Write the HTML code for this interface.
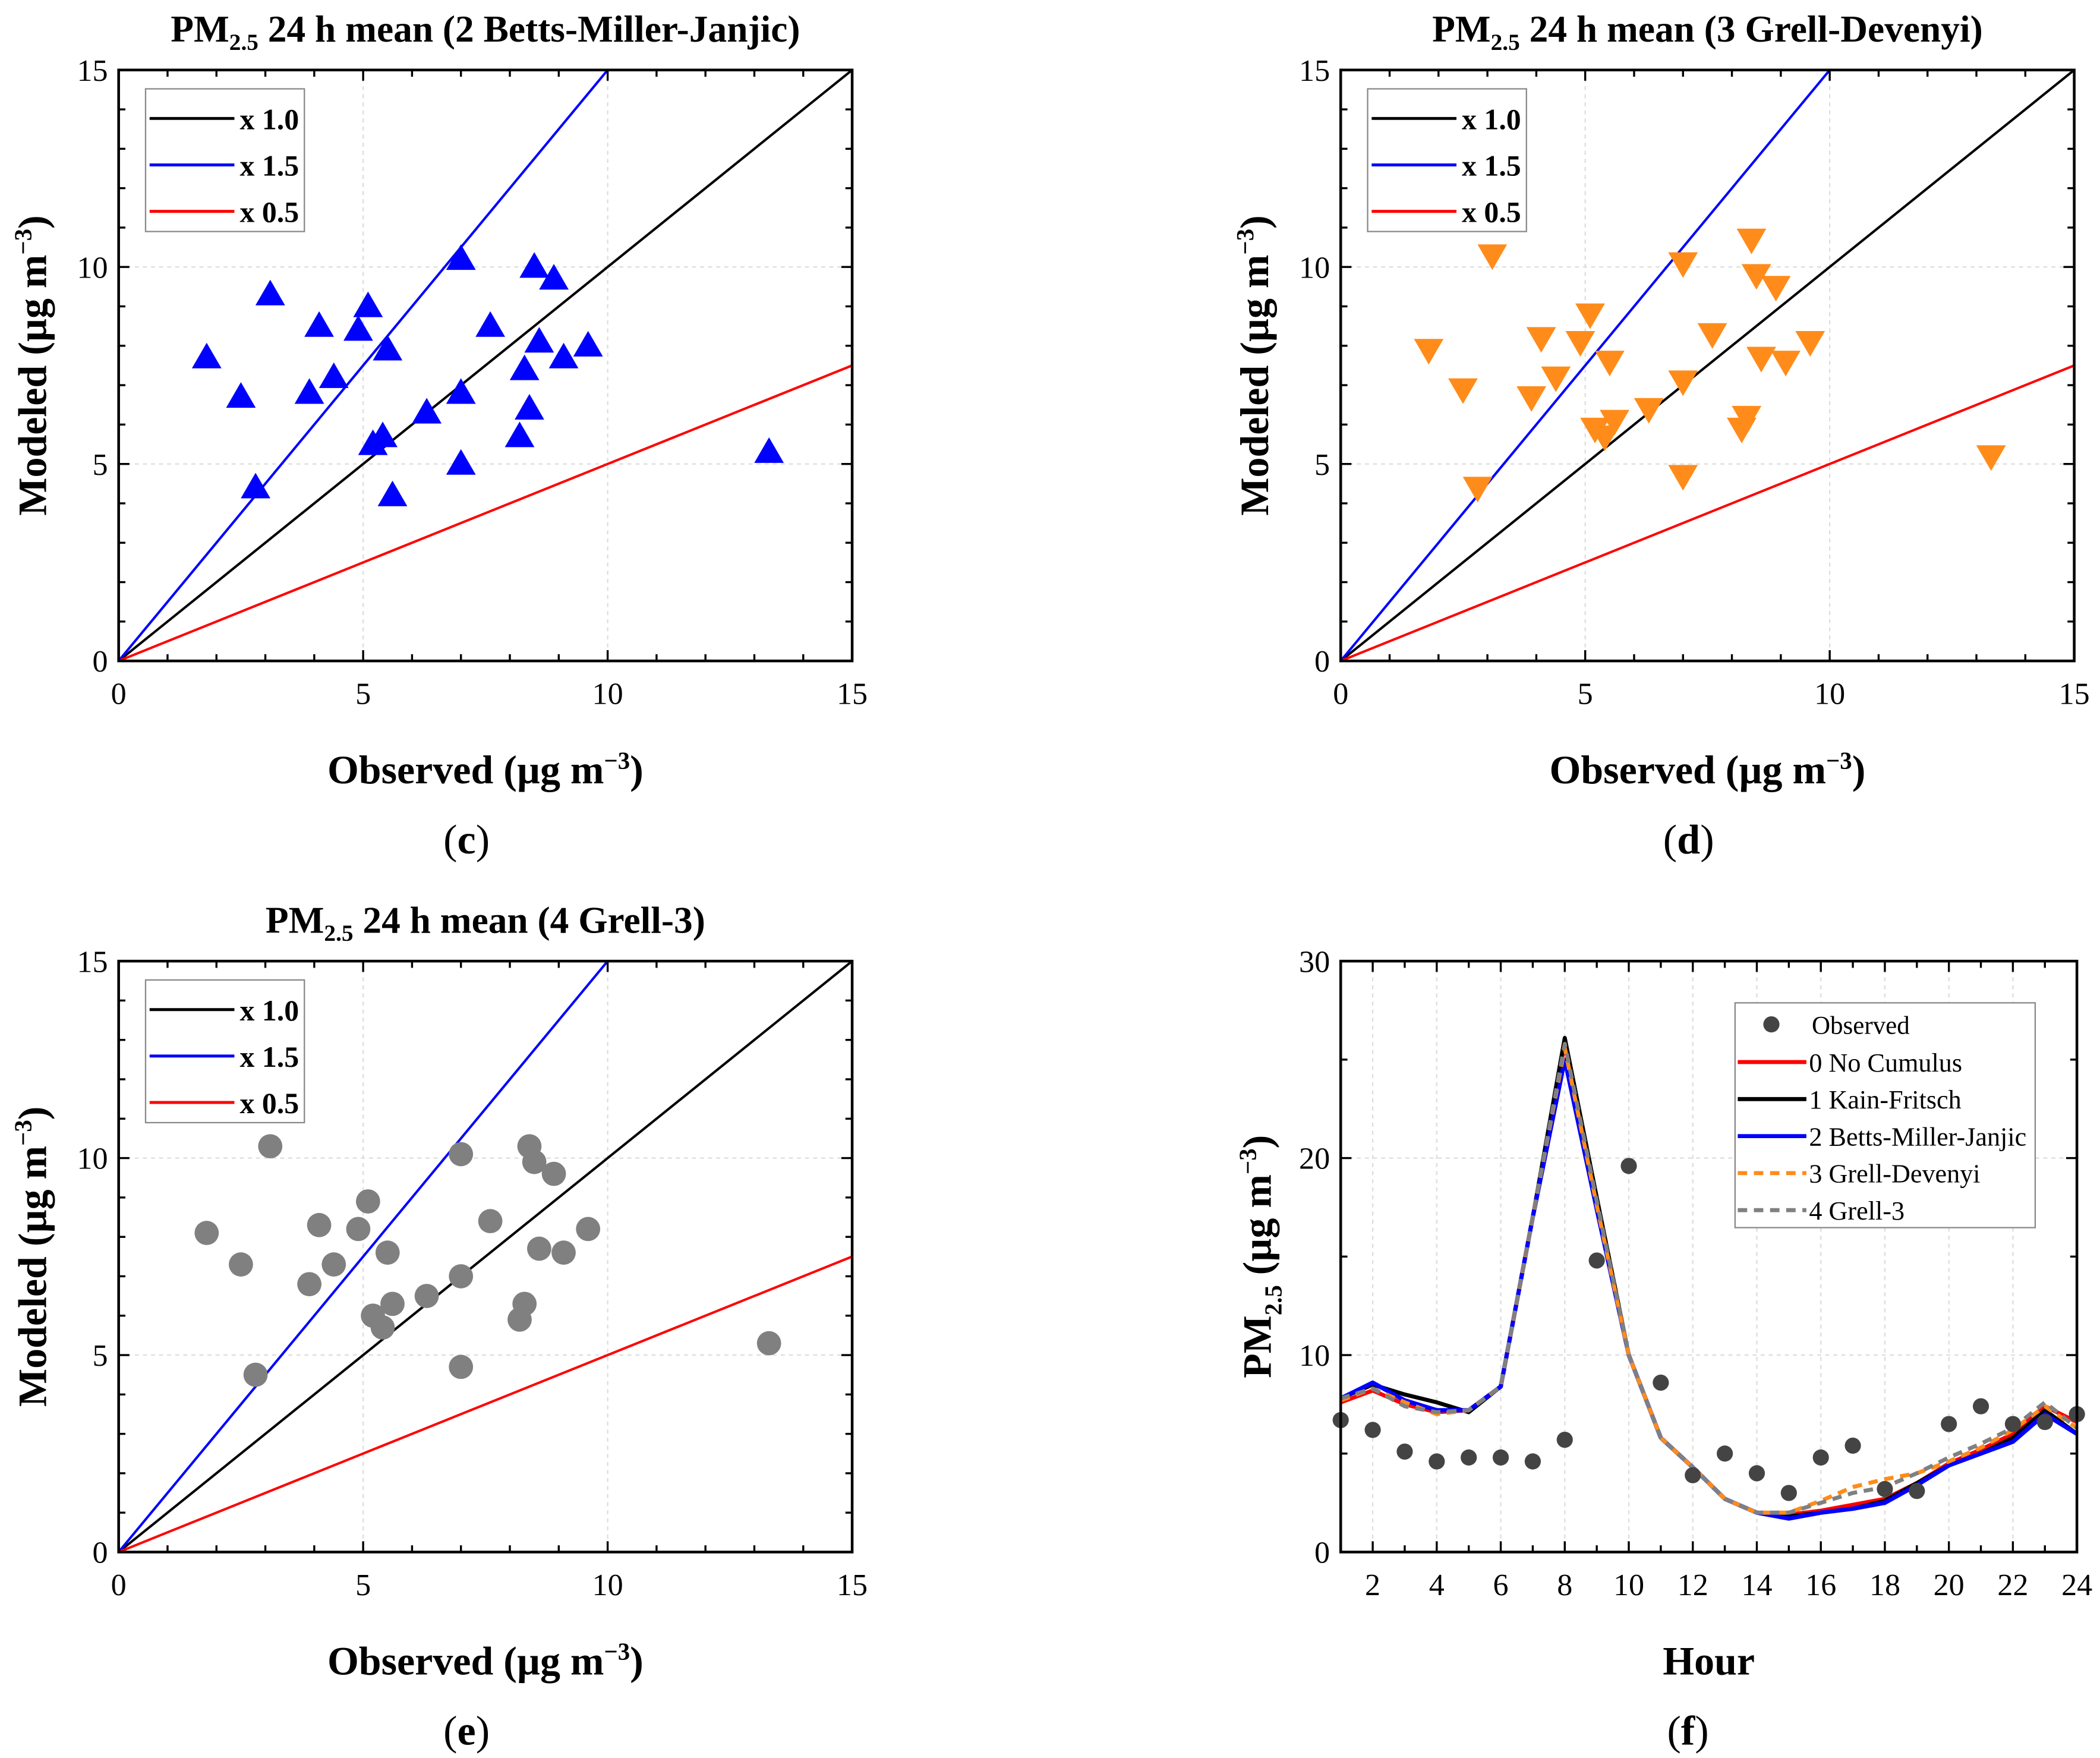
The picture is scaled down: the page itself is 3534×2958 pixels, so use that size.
<!DOCTYPE html>
<html><head><meta charset="utf-8"><style>
html,body{margin:0;padding:0;background:#fff}
svg{display:block}
text{font-family:"Liberation Serif",serif}
</style></head><body>
<svg id="fig" width="3534" height="2958" viewBox="0 0 1560 1306" xmlns="http://www.w3.org/2000/svg"></svg>
<script>
const obsX = [1.8,2.5,2.8,3.1,3.9,4.1,4.4,4.9,5.1,5.2,5.4,5.5,5.6,6.3,7.0,7.0,7.0,7.6,8.2,8.3,8.4,8.5,8.6,8.9,9.1,9.6,13.3];
const modC = [7.7,6.7,4.4,9.3,6.8,8.5,7.2,8.4,9.0,5.5,5.7,7.9,4.2,6.3,6.8,5.0,10.2,8.5,5.7,7.4,6.4,10.0,8.1,9.7,7.7,8.0,5.3];
const modD = [7.9,6.9,4.4,10.3,6.7,8.2,7.2,8.1,8.8,5.9,5.7,7.6,6.1,6.4,7.1,4.7,10.1,8.3,5.9,6.2,10.7,9.8,7.7,9.5,7.6,8.1,5.2];
const modE = [8.1,7.3,4.5,10.3,6.8,8.3,7.3,8.2,8.9,6.0,5.7,7.6,6.3,6.5,7.0,4.7,10.1,8.4,5.9,6.3,10.3,9.9,7.7,9.6,7.6,8.2,5.3];
const scatterTicks = [0,5,10,15];
const ratios = [1.0,1.5,0.5];
const ratioLabels = ["x 1.0","x 1.5","x 0.5"];
const hours = [1,2,3,4,5,6,7,8,9,10,11,12,13,14,15,16,17,18,19,20,21,22,23,24];
const observed = [6.7,6.2,5.1,4.6,4.8,4.8,4.6,5.7,14.8,19.6,8.6,3.9,5.0,4.0,3.0,4.8,5.4,3.2,3.1,6.5,7.4,6.5,6.6,7.0];
const noCumulus = [7.6,8.2,7.5,7.1,7.2,8.4,17,25.8,17.8,10,5.8,4.3,2.7,2.0,1.9,2.1,2.4,2.7,3.5,4.5,5.2,6.0,7.4,6.6];
const kainFritsch = [7.8,8.5,8.0,7.6,7.1,8.4,17,26.1,18,10,5.8,4.3,2.7,2.0,1.8,2.0,2.2,2.6,3.5,4.4,5.0,5.8,7.2,6.0];
const bettsMiller = [7.8,8.6,7.7,7.2,7.2,8.4,17,25.0,17.4,10,5.8,4.3,2.7,2.0,1.7,2.0,2.2,2.5,3.4,4.4,5.0,5.6,7.0,6.0];
const grellDevenyi = [7.7,8.3,7.6,7.0,7.2,8.4,17,25.6,17.6,10,5.8,4.3,2.7,2.0,2.0,2.6,3.3,3.7,4.0,4.6,5.3,6.2,7.4,6.3];
const grell3 = [7.8,8.3,7.4,7.1,7.2,8.4,17,25.8,17.8,10,5.8,4.3,2.7,2.0,2.0,2.5,3.0,3.3,4.0,4.8,5.5,6.3,7.6,6.3];
const hourTicks = [2,4,6,8,10,12,14,16,18,20,22,24];
const pmTicks = [0,10,20,30];

const NS="http://www.w3.org/2000/svg";
const svg=document.getElementById('fig');
function mk(tag,attrs,parent,txt){const e=document.createElementNS(NS,tag);for(const k in attrs)e.setAttribute(k,attrs[k]);if(txt!==undefined)e.textContent=txt;(parent||svg).appendChild(e);return e;}

function titleText(parent,x,y,label,size){
  const t=mk('text',{x:x,y:y,'text-anchor':'middle','font-size':size,'font-weight':'bold'},parent);
  
  
  mk('tspan',{},t,'PM');
  mk('tspan',{'font-size':size*0.62,dy:6},t,'2.5');
  mk('tspan',{dy:-6},t,' 24 h mean ('+label+')');
}

function scatterPanel(name,L,T,R,B,title,ys,marker,color,letter){
  const g=mk('g',{});
  
  
  const sx=v=>L+(R-L)*v/15, sy=v=>B-(B-T)*v/15;
  scatterTicks.forEach(v=>{ if(v>0&&v<15){
    const gl=mk('line',{x1:sx(v),x2:sx(v),y1:T,y2:B,stroke:'#ddd','stroke-dasharray':'3,3','stroke-width':1},g);
    
    const gh=mk('line',{x1:L,x2:R,y1:sy(v),y2:sy(v),stroke:'#ddd','stroke-dasharray':'3,3','stroke-width':1},g);
    
  }});
  const cols=['#000','#0000ff','#ff0000'];
  ratios.forEach((r,i)=>{
    let xe=15, ye=15*r; if(ye>15){ye=15;xe=15/r;}
    const l=mk('line',{x1:sx(0),y1:sy(0),x2:sx(xe),y2:sy(ye),stroke:cols[i],'stroke-width':1.8},g);
    
    
  });
  obsX.forEach((x,i)=>{
    const cx=sx(x), cy=sy(ys[i]);
    let m;
    if(marker==='up') m=mk('polygon',{points:`${cx},${cy-11} ${cx-11},${cy+8} ${cx+11},${cy+8}`,fill:color},g);
    else if(marker==='down') m=mk('polygon',{points:`${cx},${cy+11} ${cx-11},${cy-8} ${cx+11},${cy-8}`,fill:color},g);
    else m=mk('circle',{cx:cx,cy:cy,r:9,fill:color},g);
    
    
  });
  const f=mk('rect',{x:L,y:T,width:R-L,height:B-T,fill:'none',stroke:'#000','stroke-width':2},g);
  
  for(let v=0;v<=15;v++){
    const len=(v%5===0)?8:5;
    mk('line',{x1:sx(v),x2:sx(v),y1:B,y2:B-len,stroke:'#000','stroke-width':1.5},g);
    mk('line',{x1:sx(v),x2:sx(v),y1:T,y2:T+len,stroke:'#000','stroke-width':1.5},g);
    mk('line',{x1:L,x2:L+len,y1:sy(v),y2:sy(v),stroke:'#000','stroke-width':1.5},g);
    mk('line',{x1:R,x2:R-len,y1:sy(v),y2:sy(v),stroke:'#000','stroke-width':1.5},g);
  }
  scatterTicks.forEach(v=>{
    const tx=mk('text',{x:sx(v),y:B+32,'text-anchor':'middle','font-size':23},g,String(v));
    
    const ty=mk('text',{x:L-8,y:sy(v)+8,'text-anchor':'end','font-size':23},g,String(v));
    
  });
  titleText(g,(L+R)/2,T-21,title,28);
  const xt=mk('text',{x:(L+R)/2,y:B+91,'text-anchor':'middle','font-size':30,'font-weight':'bold'},g);
  
  mk('tspan',{},xt,'Observed (\u00b5g m');mk('tspan',{'font-size':18,dy:-11},xt,'\u22123');mk('tspan',{dy:11},xt,')');
  const yt=mk('text',{x:0,y:0,'text-anchor':'middle','font-size':30,'font-weight':'bold',transform:`translate(${L-54},${(T+B)/2}) rotate(-90)`},g);
  
  mk('tspan',{},yt,'Modeled (\u00b5g m');mk('tspan',{'font-size':18,dy:-11},yt,'\u22123');mk('tspan',{dy:11},yt,')');
  const lg=mk('g',{},g);
  
  mk('rect',{x:L+20,y:T+14,width:118,height:106,fill:'#fff',stroke:'#888','stroke-width':1},lg);
  ratioLabels.forEach((lab,i)=>{
    const yy=T+36+i*34.5;
    const le=mk('g',{},lg);
    
    mk('line',{x1:L+23,x2:L+86,y1:yy,y2:yy,stroke:cols[i],'stroke-width':2.2},le);
    mk('text',{x:L+90,y:yy+8,'font-size':22,'font-weight':'bold'},le,lab);
  });
  const pl=mk('text',{x:(L+R)/2-14,y:B+143,'text-anchor':'middle','font-size':31},g);
  
  mk('tspan',{},pl,'(');mk('tspan',{'font-weight':'bold'},pl,letter);mk('tspan',{},pl,')');
}

scatterPanel('panel-c',88,52,633,491,'2 Betts-Miller-Janjic',modC,'up','#0000ff','c');
scatterPanel('panel-d',996,52,1541,491,'3 Grell-Devenyi',modD,'down','#ff8c1a','d');
scatterPanel('panel-e',88,714,633,1153,'4 Grell-3',modE,'circle','#808080','e');

(function(){
  const L=996,T=714,R=1543,B=1153;
  const g=mk('g',{});
  
  const sx=h=>L+(R-L)*(h-1)/23, sy=v=>B-(B-T)*v/30;
  hourTicks.forEach(h=>{ if(h<24){
    const gl=mk('line',{x1:sx(h),x2:sx(h),y1:T,y2:B,stroke:'#ddd','stroke-dasharray':'3,3'},g);
    }});
  pmTicks.forEach(v=>{ if(v>0&&v<30){
    const gh=mk('line',{x1:L,x2:R,y1:sy(v),y2:sy(v),stroke:'#ddd','stroke-dasharray':'3,3'},g);
    }});
  const series=[
    {n:'series-0-no-cumulus',d:noCumulus,c:'#ff0000',w:3,dash:null,lab:'0 No Cumulus'},
    {n:'series-1-kain-fritsch',d:kainFritsch,c:'#000',w:3,dash:null,lab:'1 Kain-Fritsch'},
    {n:'series-2-betts-miller-janjic',d:bettsMiller,c:'#0000ff',w:3.2,dash:null,lab:'2 Betts-Miller-Janjic'},
    {n:'series-3-grell-devenyi',d:grellDevenyi,c:'#ff8c1a',w:3,dash:'7,5',lab:'3 Grell-Devenyi'},
    {n:'series-4-grell-3',d:grell3,c:'#808080',w:3,dash:'7,5',lab:'4 Grell-3'}];
  series.forEach(s=>{
    const pts=hours.map((h,i)=>sx(h)+','+sy(s.d[i])).join(' ');
    const a={points:pts,fill:'none',stroke:s.c,'stroke-width':s.w,'stroke-linejoin':'round'};
    if(s.dash)a['stroke-dasharray']=s.dash;
    const p=mk('polyline',a,g);
    
  });
  hours.forEach((h,i)=>{
    const c=mk('circle',{cx:sx(h),cy:sy(observed[i]),r:6,fill:'#444'},g);
    
  });
  const f=mk('rect',{x:L,y:T,width:R-L,height:B-T,fill:'none',stroke:'#000','stroke-width':2},g);
  
  hours.forEach(h=>{
    const len=(h%2===0)?8:5;
    mk('line',{x1:sx(h),x2:sx(h),y1:B,y2:B-len,stroke:'#000','stroke-width':1.5},g);
    mk('line',{x1:sx(h),x2:sx(h),y1:T,y2:T+len,stroke:'#000','stroke-width':1.5},g);
  });
  for(let v=0;v<=30;v+=5){
    const len=(v%10===0)?8:5;
    mk('line',{x1:L,x2:L+len,y1:sy(v),y2:sy(v),stroke:'#000','stroke-width':1.5},g);
    mk('line',{x1:R,x2:R-len,y1:sy(v),y2:sy(v),stroke:'#000','stroke-width':1.5},g);
  }
  hourTicks.forEach(h=>{
    const t=mk('text',{x:sx(h),y:B+32,'text-anchor':'middle','font-size':23},g,String(h));
    
  });
  pmTicks.forEach(v=>{
    const t=mk('text',{x:L-8,y:sy(v)+8,'text-anchor':'end','font-size':23},g,String(v));
    
  });
  const xt=mk('text',{x:(L+R)/2,y:B+91,'text-anchor':'middle','font-size':30,'font-weight':'bold'},g,'Hour');
  
  const yt=mk('text',{x:0,y:0,'text-anchor':'middle','font-size':30,'font-weight':'bold',transform:`translate(${L-52},${(T+B)/2}) rotate(-90)`},g);
  
  mk('tspan',{},yt,'PM');mk('tspan',{'font-size':18,dy:8},yt,'2.5');mk('tspan',{dy:-8},yt,' (\u00b5g m');
  mk('tspan',{'font-size':18,dy:-11},yt,'\u22123');mk('tspan',{dy:11},yt,')');
  const lg=mk('g',{},g);
  
  mk('rect',{x:1289,y:745,width:223,height:167,fill:'#fff',stroke:'#888','stroke-width':1},lg);
  const e0=mk('g',{},lg);
  
  mk('circle',{cx:1316,cy:761,r:6,fill:'#444'},e0);
  mk('text',{x:1346,y:768,'font-size':19},e0,'Observed');
  series.forEach((s,i)=>{
    const yy=789+i*27.5;
    const le=mk('g',{},lg);
    
    const a={x1:1291,x2:1342,y1:yy,y2:yy,stroke:s.c,'stroke-width':3};
    if(s.dash)a['stroke-dasharray']=s.dash;
    mk('line',a,le);
    mk('text',{x:1344,y:yy+7,'font-size':19.5},le,s.lab);
  });
  const pl=mk('text',{x:1254,y:B+143,'text-anchor':'middle','font-size':31},g);
  
  mk('tspan',{},pl,'(');mk('tspan',{'font-weight':'bold'},pl,'f');mk('tspan',{},pl,')');
})();
</script>
</body></html>
